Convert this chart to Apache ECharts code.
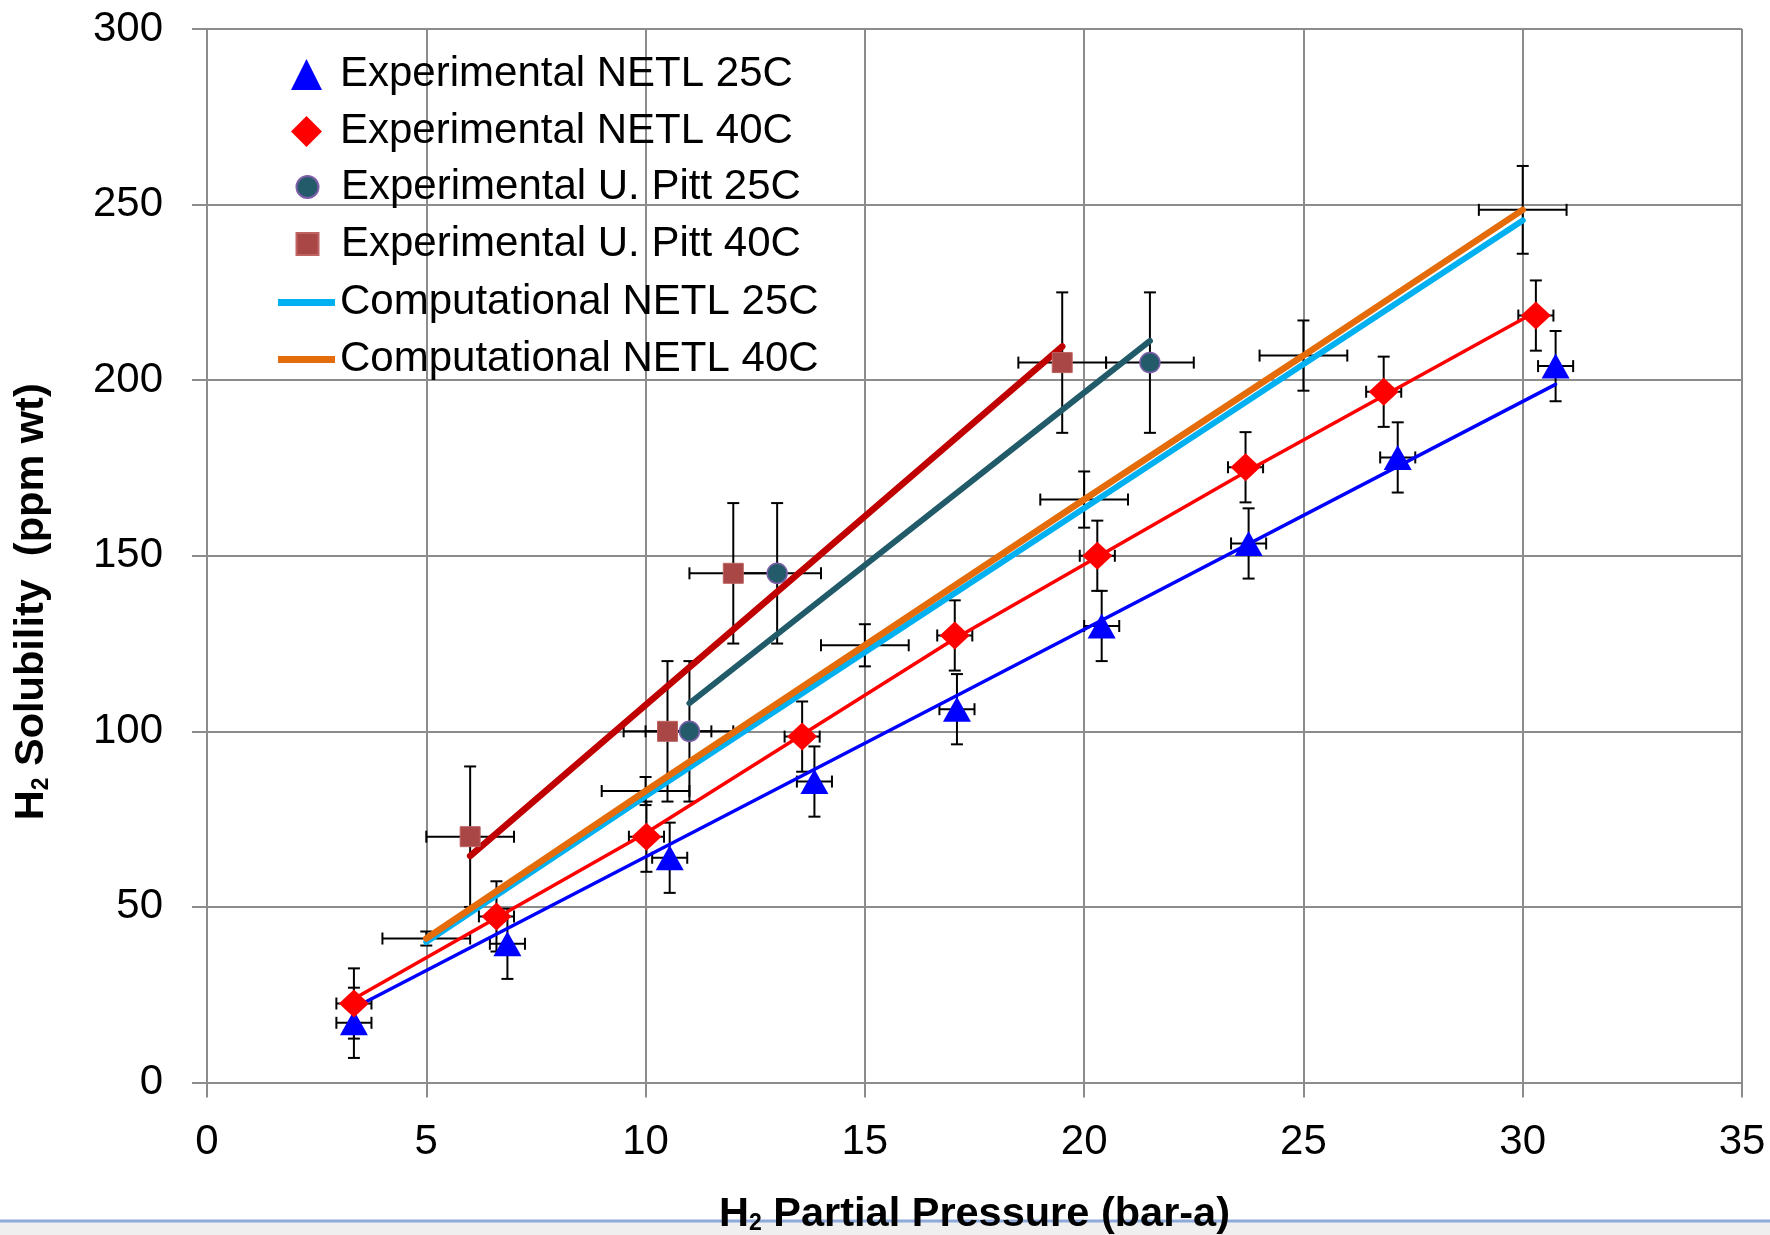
<!DOCTYPE html>
<html>
<head>
<meta charset="utf-8">
<title>H2 Solubility</title>
<script src="https://cdn.jsdelivr.net/npm/echarts@6/dist/echarts.min.js"></script>
<style>
  html, body { margin: 0; padding: 0; background: #fff; }
  #chart { width: 1770px; height: 1235px; }
</style>
</head>
<body>
<div id="chart"></div>
<script>
// 数据
const netl25X = [3.35, 6.85, 10.55, 13.85, 17.1, 20.4, 23.75, 27.15, 30.75]
const netl25Y = [17, 39.5, 64, 85.7, 106.3, 130, 153.5, 178, 204]
const netl25XErr = [0.4, 0.4, 0.4, 0.4, 0.4, 0.4, 0.4, 0.4, 0.4]
const netl25YErr = [10, 10, 10, 10, 10, 10, 10, 10, 10]

const netl40X = [3.35, 6.6, 10.02, 13.57, 17.05, 20.3, 23.68, 26.83, 30.3]
const netl40Y = [22.5, 47.3, 70, 98.5, 127.3, 150, 175.2, 196.7, 218.4]
const netl40XErr = [0.4, 0.4, 0.4, 0.4, 0.4, 0.4, 0.4, 0.4, 0.4]
const netl40YErr = [10, 10, 10, 10, 10, 10, 10, 10, 10]

const pitt25X = [11, 13, 21.5]
const pitt25Y = [100, 145, 205]
const pitt25XErr = [1, 1, 1]
const pitt25YErr = [20, 20, 20]

const pitt40X = [6, 10.5, 12, 19.5]
const pitt40Y = [70, 100, 145, 205]
const pitt40XErr = [1, 1, 1, 1]
const pitt40YErr = [20, 20, 20, 20]

const compX = [5, 10, 15, 20, 25, 30]
const comp25Y = [40, 81.5, 122.5, 163.5, 204.5, 245.5]
const comp40Y = [41, 83, 124.5, 166, 207, 248.5]
const comp40XErr = [1, 1, 1, 1, 1, 1]
const comp40YErr = [2, 4, 6, 8, 10, 12.5]

// 趋势线
const netl25FitX = [3.35, 17.1, 30.75]
const netl25FitY = [21.2, 110.2, 198.8]
const netl40FitX = [3.3, 10, 17, 23.7, 30.3]
const netl40FitY = [23.5, 71, 126, 174, 219.5]
const pitt25FitX = [11, 21.5]
const pitt25FitY = [108, 211.2]
const pitt40FitX = [6, 19.5]
const pitt40FitY = [64.5, 209.6]

const names = [
  'Experimental NETL 25C',
  'Experimental NETL 40C',
  'Experimental U. Pitt 25C',
  'Experimental U. Pitt 40C',
  'Computational NETL 25C',
  'Computational NETL 40C'
]

const FONT = "'Liberation Sans', Arial, sans-serif"
const GRID_COLOR = '#8c8c8c'

const zip = (xs, ys) => xs.map((x, i) => [x, ys[i]])

// 误差线（自定义系列）
function errorBars(xs, ys, xErr, yErr) {
  return {
    type: 'custom',
    silent: true,
    z: 2,
    data: xs.map((x, i) => [x, ys[i], xErr[i], yErr[i]]),
    encode: { x: 0, y: 1 },
    renderItem: function (params, api) {
      const x = api.value(0)
      const y = api.value(1)
      const ex = api.value(2)
      const ey = api.value(3)
      const top = api.coord([x, y + ey])
      const bot = api.coord([x, y - ey])
      const left = api.coord([x - ex, y])
      const right = api.coord([x + ex, y])
      const cap = 6
      const style = { stroke: '#000', lineWidth: 2 }
      const seg = (x1, y1, x2, y2) => ({ type: 'line', shape: { x1, y1, x2, y2 }, style })
      return {
        type: 'group',
        children: [
          seg(top[0], top[1], bot[0], bot[1]),
          seg(top[0] - cap, top[1], top[0] + cap, top[1]),
          seg(bot[0] - cap, bot[1], bot[0] + cap, bot[1]),
          seg(left[0], left[1], right[0], right[1]),
          seg(left[0], left[1] - cap, left[0], left[1] + cap),
          seg(right[0], right[1] - cap, right[0], right[1] + cap)
        ]
      }
    }
  }
}

function fitLine(xs, ys, color, width) {
  return {
    type: 'line',
    z: 3,
    silent: true,
    symbol: 'none',
    data: zip(xs, ys),
    lineStyle: { color, width, cap: 'round' }
  }
}

// 图例：文字统一从 x=340 开始
function legendBlock(top, iconSize, iconCenter, data, icon) {
  const left = iconCenter - iconSize.w / 2
  const textPad = 340 - (left + iconSize.w + 5)
  const block = {
    orient: 'vertical',
    left,
    top,
    padding: 0,
    itemWidth: iconSize.w,
    itemHeight: iconSize.h,
    itemGap: 15,
    selectedMode: false,
    symbolKeepAspect: true,
    textStyle: { fontSize: 42, lineHeight: 42, color: '#000', fontFamily: FONT, padding: [0, 0, 0, textPad] },
    data
  }
  if (icon) block.icon = icon
  return block
}

const axisCommon = {
  type: 'value',
  axisLine: { show: true, lineStyle: { color: GRID_COLOR, width: 2 } },
  axisTick: { show: true, length: 15, lineStyle: { color: GRID_COLOR, width: 2 } },
  splitLine: { show: true, lineStyle: { color: GRID_COLOR, width: 2 } },
  nameLocation: 'middle'
}

const titleRich = {
  a: { fontSize: 41.5, fontWeight: 'bold', fontFamily: FONT, color: '#000', lineHeight: 42, verticalAlign: 'top' },
  s: { fontSize: 23, fontWeight: 'bold', fontFamily: FONT, color: '#000', lineHeight: 23, verticalAlign: 'bottom' }
}

const option = {
  animation: false,
  backgroundColor: '#fff',
  grid: { left: 207, right: 28, top: 29, bottom: 152.5, containLabel: false, outerBoundsMode: 'none' },
  legend: [
    legendBlock(53.5, { w: 31, h: 31 }, 306.5, [names[0], names[1]]),
    legendBlock(166, { w: 22, h: 22 }, 306.5, [names[2], names[3]]),
    legendBlock(281.5, { w: 57, h: 7 }, 306.5, [names[4], names[5]], 'rect')
  ],
  xAxis: Object.assign({}, axisCommon, {
    min: 0,
    max: 35,
    interval: 5,
    axisLabel: { fontSize: 42, color: '#000', fontFamily: FONT, margin: 39 },
    name: '{a|H}{s|2}{a| Partial Pressure (bar-a)}',
    nameGap: 111,
    nameTextStyle: { rich: titleRich }
  }),
  yAxis: Object.assign({}, axisCommon, {
    min: 0,
    max: 300,
    interval: 50,
    axisLabel: { fontSize: 42, color: '#000', fontFamily: FONT, margin: 44 },
    name: '{a|H}{s|2}{a| Solubility  (ppm wt)}',
    nameGap: 154,
    nameTextStyle: { rich: titleRich, padding: [0, 92, 0, 0] }
  }),
  graphic: [
    {
      type: 'rect',
      z: -1,
      shape: { x: 0, y: 1222, width: 1770, height: 13 },
      style: { fill: '#efefef' }
    },
    {
      type: 'line',
      z: -1,
      shape: { x1: 0, y1: 1221, x2: 1770, y2: 1221 },
      style: { stroke: '#8eaadb', lineWidth: 3 }
    }
  ],
  series: [
    // 误差线
    errorBars(netl25X, netl25Y, netl25XErr, netl25YErr),
    errorBars(netl40X, netl40Y, netl40XErr, netl40YErr),
    errorBars(pitt25X, pitt25Y, pitt25XErr, pitt25YErr),
    errorBars(pitt40X, pitt40Y, pitt40XErr, pitt40YErr),
    errorBars(compX, comp40Y, comp40XErr, comp40YErr),
    // 趋势线
    fitLine(netl25FitX, netl25FitY, '#0000ff', 3.5),
    fitLine(netl40FitX, netl40FitY, '#ff0000', 3.5),
    fitLine(pitt25FitX, pitt25FitY, '#215b6a', 6),
    fitLine(pitt40FitX, pitt40FitY, '#c00000', 6.5),
    // 计算值
    {
      name: names[4],
      type: 'line',
      z: 3,
      symbol: 'none',
      data: zip(compX, comp25Y),
      lineStyle: { color: '#00b0f0', width: 6, cap: 'round' },
      itemStyle: { color: '#00b0f0' }
    },
    {
      name: names[5],
      type: 'line',
      z: 3,
      symbol: 'none',
      data: zip(compX, comp40Y),
      lineStyle: { color: '#e46c0a', width: 6.5, cap: 'round' },
      itemStyle: { color: '#e46c0a' }
    },
    // 实验值
    {
      name: names[0],
      type: 'scatter',
      z: 4,
      symbol: 'triangle',
      symbolSize: [28, 25],
      data: zip(netl25X, netl25Y),
      itemStyle: { color: '#0000ff', opacity: 1 }
    },
    {
      name: names[1],
      type: 'scatter',
      z: 4,
      symbol: 'diamond',
      symbolSize: [30, 28],
      data: zip(netl40X, netl40Y),
      itemStyle: { color: '#ff0000', opacity: 1 }
    },
    {
      name: names[2],
      type: 'scatter',
      z: 4,
      symbol: 'circle',
      symbolSize: 20,
      data: zip(pitt25X, pitt25Y),
      itemStyle: { color: '#235b6b', borderColor: '#7b5ea7', borderWidth: 1.5, opacity: 1 }
    },
    {
      name: names[3],
      type: 'scatter',
      z: 4,
      symbol: 'rect',
      symbolSize: 20,
      data: zip(pitt40X, pitt40Y),
      itemStyle: { color: '#a94646', borderColor: '#bf6262', borderWidth: 1, opacity: 1 }
    }
  ]
}

const chart = echarts.init(document.getElementById('chart'), null, { renderer: 'canvas' })
chart.setOption(option)
window.addEventListener('resize', chart.resize)
</script>
</body>
</html>
